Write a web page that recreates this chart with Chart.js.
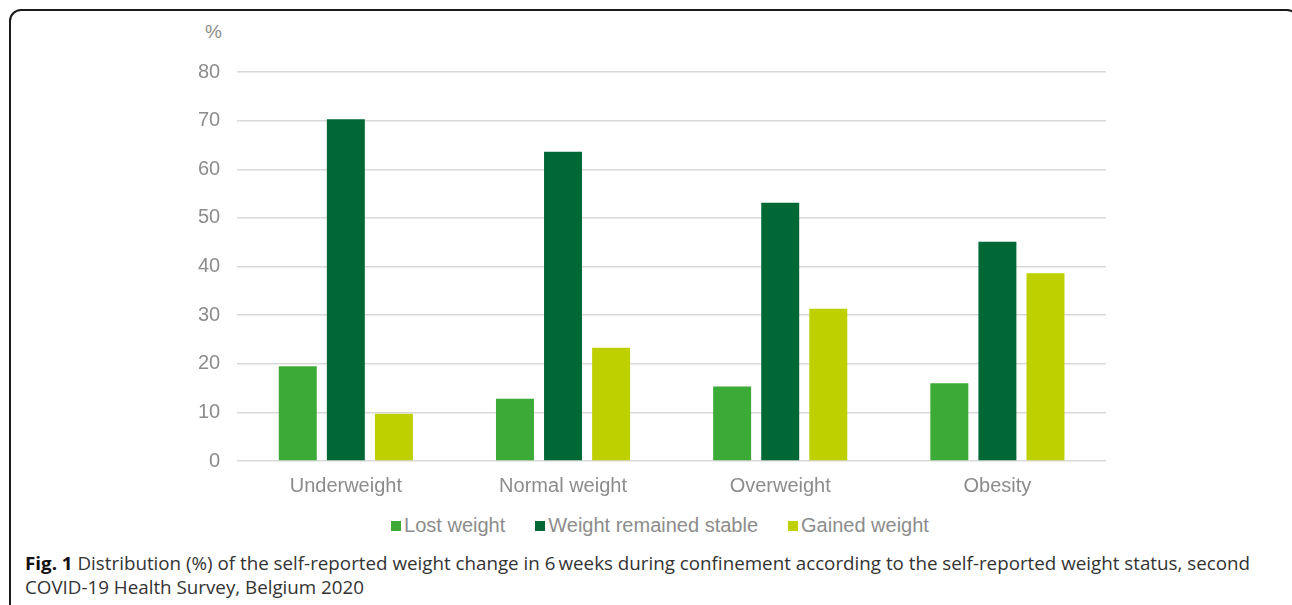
<!DOCTYPE html>
<html>
<head>
<meta charset="utf-8">
<script src="https://cdn.jsdelivr.net/npm/chart.js@4/dist/chart.umd.min.js"></script>
<style>
  html, body { margin: 0; padding: 0; background: #fff; width: 1292px; height: 605px; overflow: hidden; }
  #frame { position: absolute; left: 9px; top: 9px; width: 1290px; height: 700px; border: 2px solid #1a1a1a; border-radius: 12px; box-sizing: border-box; }
  #wrap { position: absolute; left: 0; top: 0; width: 1292px; height: 508px; }
  #pct { position: absolute; left: 205px; top: 21px; font: 19px "Liberation Sans", Arial, sans-serif; color: #8c8c8c; }
  #legend { position: absolute; left: 14px; top: 513px; width: 1292px; display: flex; justify-content: center; font: 20px "Liberation Sans", Arial, sans-serif; color: #8c8c8c; line-height: 24px; }
  #legend .item { display: flex; align-items: center; margin: 0 15px; }
  #legend .box { width: 10px; height: 10px; margin-right: 3px; margin-top: 1px; }
  #caption { position: absolute; left: 25px; top: 551px; font: 18px "Open Sans", sans-serif; color: #333; line-height: 24px; }
  #caption .line { display: block; white-space: nowrap; transform-origin: 0 0; }
  #caption b { color: #111; }
</style>
</head>
<body>
<div id="frame"></div>
<div id="pct">%</div>
<div id="wrap"><canvas id="c" width="1292" height="508"></canvas></div>
<div id="legend"></div>
<div id="caption"><span class="line" id="l1"><b>Fig. 1</b> Distribution (%) of the self-reported weight change in 6&#8201;weeks during confinement according to the self-reported weight status, second</span><span class="line" id="l2">COVID-19 Health Survey, Belgium 2020</span></div>
<script>
const categories = ["Underweight", "Normal weight", "Overweight", "Obesity"];
const seriesNames = ["Lost weight", "Weight remained stable", "Gained weight"];
const lostWeight = [19.5, 12.8, 15.3, 16.0];
const stableWeight = [70.3, 63.6, 53.1, 45.1];
const gainedWeight = [9.7, 23.3, 31.3, 38.6];
const yTicks = [0, 10, 20, 30, 40, 50, 60, 70, 80];
const colors = ["#3CAA36", "#006834", "#BED000"];

const values = [lostWeight, stableWeight, gainedWeight];
const font = { family: "'Liberation Sans', Arial, sans-serif", size: 20 };

const chart = new Chart(document.getElementById('c'), {
  type: 'bar',
  data: {
    labels: categories,
    datasets: seriesNames.map((n, i) => ({
      label: n,
      data: values[i],
      backgroundColor: colors[i],
      borderWidth: 0,
      categoryPercentage: 0.664,
      barPercentage: 0.79
    }))
  },
  options: {
    responsive: false,
    animation: false,
    layout: { padding: { left: 181, right: 186, top: 72, bottom: 5 } },
    plugins: {
      tooltip: { enabled: false },
      legend: { display: false }
    },
    scales: {
      x: {
        grid: { display: false },
        border: { display: false },
        ticks: { font: font, color: '#8c8c8c', padding: 5 }
      },
      y: {
        min: 0, max: 80,
        afterBuildTicks: (axis) => { axis.ticks = yTicks.map(v => ({ value: v })); },
        grid: { color: '#d9d9d9', lineWidth: 1.5, drawTicks: false },
        border: { display: false },
        ticks: { font: font, color: '#8c8c8c', padding: 17 }
      }
    }
  }
});

// HTML legend built from the chart's datasets
const legend = document.getElementById('legend');
chart.data.datasets.forEach(ds => {
  const item = document.createElement('div');
  item.className = 'item';
  const box = document.createElement('span');
  box.className = 'box';
  box.style.background = ds.backgroundColor;
  const txt = document.createElement('span');
  txt.textContent = ds.label;
  item.appendChild(box); item.appendChild(txt);
  legend.appendChild(item);
});

// condense caption to match the reference line width
const l1 = document.getElementById('l1'), l2 = document.getElementById('l2');
const s = 1225 / l1.getBoundingClientRect().width;
l1.style.transform = `scaleX(${s})`;
l2.style.transform = `scaleX(${s})`;
</script>
</body>
</html>
